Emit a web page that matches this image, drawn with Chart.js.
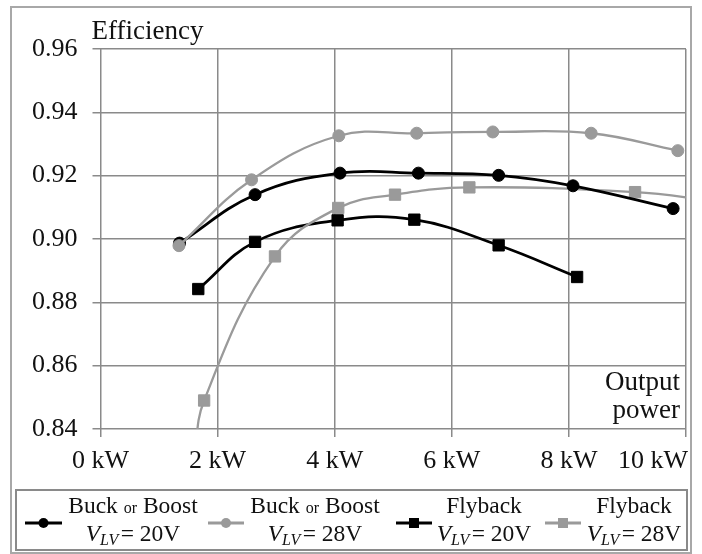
<!DOCTYPE html>
<html><head><meta charset="utf-8">
<script src="https://cdn.jsdelivr.net/npm/chart.js@4.4.1/dist/chart.umd.min.js"></script>
<style>html,body{margin:0;padding:0;background:#fff}canvas{display:block}</style>
</head><body>
<canvas id="c" width="702" height="554"></canvas>
<script>
// ---- data ----
const seriesNames = ['Buck or Boost', 'Buck or Boost', 'Flyback', 'Flyback'];
const seriesVoltages = ['20V', '28V', '20V', '28V'];
const buck20Power = [1.35, 2.64, 4.09, 5.43, 6.80, 8.07, 9.78];
const buck20Eff   = [0.8987, 0.9140, 0.9208, 0.9208, 0.9201, 0.9168, 0.9096];
const buck28Power = [1.34, 2.58, 4.07, 5.40, 6.70, 8.38, 9.86];
const buck28Eff   = [0.8979, 0.9187, 0.9326, 0.9334, 0.9338, 0.9334, 0.9279];
const fly20Power  = [1.67, 2.64, 4.05, 5.36, 6.80, 8.14];
const fly20Eff    = [0.8842, 0.8991, 0.9059, 0.9061, 0.8980, 0.8880];
const fly28Power  = [1.60, 1.77, 2.98, 4.06, 5.03, 6.30, 9.13, 10.50];
const fly28Eff    = [0.830, 0.849, 0.8945, 0.9098, 0.9140, 0.9163, 0.9148, 0.9120];
const xTickLabels = ['0 kW', '2 kW', '4 kW', '6 kW', '8 kW', '10 kW'];
const yTickLabels = ['0.84', '0.86', '0.88', '0.90', '0.92', '0.94', '0.96'];
const yAxisTitle = 'Efficiency';
const xAxisTitle = ['Output', 'power'];

// ---- styles ----
const FONT = 'Liberation Serif';
const TEXT = '#111111';
const GRID = '#8a8a8a';
const COLORS = ['#000000', '#9a9a9a', '#000000', '#9a9a9a'];
const STYLES = ['circle', 'circle', 'rect', 'rect'];
const ORDERS = [2, 1, 4, 3];
const pairs = [[buck20Power, buck20Eff], [buck28Power, buck28Eff], [fly20Power, fly20Eff], [fly28Power, fly28Eff]];

const datasets = pairs.map((p, i) => ({
  label: seriesNames[i] + ' VLV = ' + seriesVoltages[i],
  data: p[0].map((x, j) => ({ x: x, y: p[1][j] })),
  borderColor: COLORS[i],
  backgroundColor: COLORS[i],
  borderWidth: i % 2 === 0 ? 2.7 : 2.3,
  pointStyle: STYLES[i],
  pointRadius: ctx => {
    const v = ctx.raw;
    if (v && (v.x > 10 || v.y < 0.84)) return 0;
    return STYLES[i] === 'rect' ? 8 : 6;
  },
  pointBorderWidth: 1,
  pointBorderColor: COLORS[i],
  tension: 0.4,
  order: ORDERS[i]
}));

const LEG = {
  box: [16, 490, 671, 60],
  markers: [[25, 62], [208, 244], [396, 432], [545, 581]],
  textCx: [133, 315, 484, 634],
  markerY: 523, line1: 513, line2: 541
};

function drawParts(c, parts, cx, baseY) {
  let total = 0;
  parts.forEach(p => { c.font = p.font; p.w = c.measureText(p.t).width; total += p.w; });
  let x = cx - total / 2;
  parts.forEach(p => { c.font = p.font; c.fillText(p.t, x, baseY + (p.dy || 0)); x += p.w; });
}

const deco = {
  id: 'deco',
  beforeDraw(chart) {
    const c = chart.ctx;
    c.save();
    c.fillStyle = '#fff';
    c.fillRect(0, 0, chart.width, chart.height);
    c.strokeStyle = '#a8a8a8';
    c.lineWidth = 2;
    c.strokeRect(11, 7, 680, 546);
    c.restore();
  },
  afterDraw(chart) {
    const c = chart.ctx, a = chart.chartArea, xs = chart.scales.x;
    c.save();
    c.fillStyle = TEXT;
    c.textBaseline = 'alphabetic';
    // x tick labels
    c.font = '26px "' + FONT + '"';
    xs.ticks.forEach((t, i) => {
      const px = xs.getPixelForValue(t.value);
      const last = i === xs.ticks.length - 1;
      c.textAlign = last ? 'right' : 'center';
      c.fillText(xTickLabels[i], last ? a.right + 2 : px, a.bottom + 39);
    });
    // axis titles
    c.font = '27px "' + FONT + '"';
    c.textAlign = 'left';
    c.fillText(yAxisTitle, a.left - 9, a.top - 10);
    c.textAlign = 'right';
    c.fillText(xAxisTitle[0], a.right - 6, a.bottom - 39);
    c.fillText(xAxisTitle[1], a.right - 6, a.bottom - 11);
    // legend
    const b = LEG.box;
    c.strokeStyle = GRID;
    c.lineWidth = 2;
    c.strokeRect(b[0], b[1], b[2], b[3]);
    chart.data.datasets.forEach((ds, i) => {
      const m = LEG.markers[i], my = LEG.markerY;
      c.strokeStyle = COLORS[i];
      c.fillStyle = COLORS[i];
      c.lineWidth = 3;
      c.beginPath(); c.moveTo(m[0], my); c.lineTo(m[1], my); c.stroke();
      const mx = (m[0] + m[1]) / 2;
      if (STYLES[i] === 'circle') { c.beginPath(); c.arc(mx, my, 5, 0, Math.PI * 2); c.fill(); }
      else { c.fillRect(mx - 5, my - 5, 10, 10); }
      c.fillStyle = TEXT;
      c.textAlign = 'left';
      const big = '23.5px "' + FONT + '"', small = '16px "' + FONT + '"';
      const words = seriesNames[i].split(' ');
      const parts1 = [];
      words.forEach((w, k) => {
        parts1.push({ t: w, font: w === 'or' ? small : big });
        if (k < words.length - 1) parts1.push({ t: ' ', font: big });
      });
      drawParts(c, parts1, LEG.textCx[i], LEG.line1);
      const parts2 = [
        { t: 'V', font: 'italic 23.5px "' + FONT + '"' },
        { t: 'LV', font: 'italic 16px "' + FONT + '"', dy: 4 },
        { t: ' ', font: '10px "' + FONT + '"' },
        { t: '= ' + seriesVoltages[i], font: big }
      ];
      drawParts(c, parts2, LEG.textCx[i], LEG.line2);
    });
    c.restore();
  }
};

new Chart(document.getElementById('c'), {
  type: 'line',
  data: { datasets: datasets },
  options: {
    responsive: false,
    animation: false,
    devicePixelRatio: 1,
    layout: { padding: { left: 0, right: 16, top: 49, bottom: 85 } },
    elements: { line: { capBezierPoints: false } },
    plugins: { legend: { display: false }, tooltip: { enabled: false } },
    scales: {
      x: {
        type: 'linear', min: 0, max: 10,
        border: { display: false },
        grid: { color: GRID, lineWidth: 1.5, tickLength: 8, drawTicks: true },
        ticks: { stepSize: 2, display: false },
        afterFit: s => { s.height = 40; }
      },
      y: {
        min: 0.84, max: 0.96,
        border: { display: false },
        grid: { color: GRID, lineWidth: 1.5, tickLength: 8, drawTicks: true },
        ticks: {
          stepSize: 0.02, padding: 15, color: TEXT,
          font: { family: FONT, size: 26 },
          callback: (v, i) => yTickLabels[i]
        },
        afterFit: s => { s.width = 100.5; }
      }
    }
  },
  plugins: [deco]
});
</script>
</body></html>
